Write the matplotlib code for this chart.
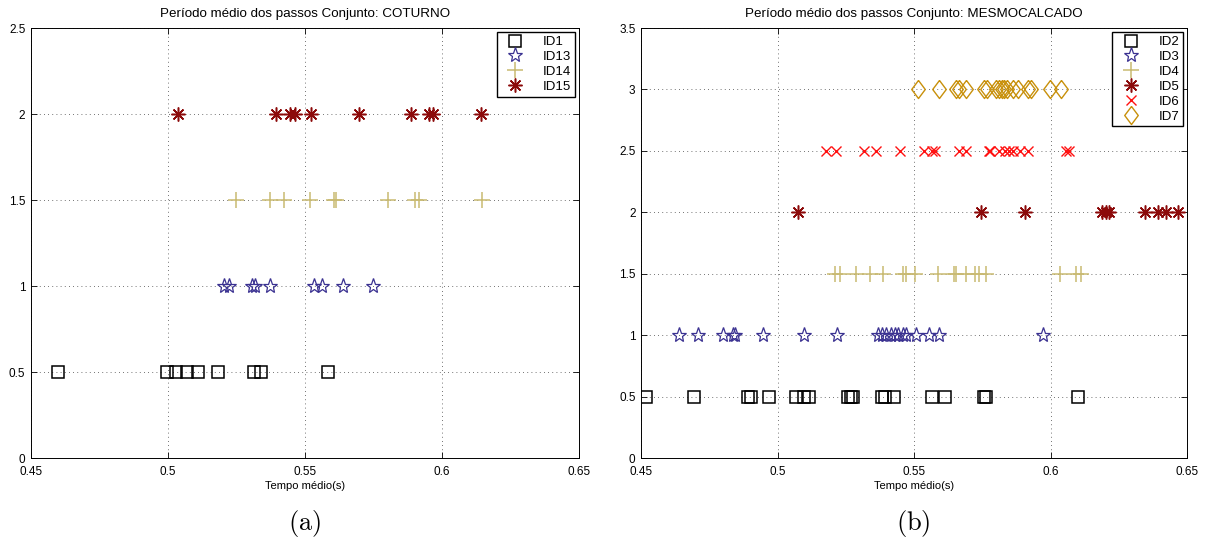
import numpy as np
import matplotlib
matplotlib.use("Agg")
import matplotlib.pyplot as plt
plt.rcParams["font.family"] = "Liberation Sans"
plt.rcParams["font.size"] = 8
plt.rcParams["mathtext.fontset"] = "cm"

# Data (mean step period per subject)
coturno_ids = ["ID1", "ID13", "ID14", "ID15"]
coturno_levels = [0.5, 1.0, 1.5, 2.0]
id1 = [0.460, 0.4995, 0.5031, 0.5069, 0.5108, 0.5183, 0.5315, 0.5340, 0.5584]
id13 = [0.5203, 0.5222, 0.5306, 0.5319, 0.5372, 0.5532, 0.5561, 0.5640, 0.5747]
id14 = [0.5250, 0.5374, 0.5424, 0.5519, 0.5606, 0.5613, 0.5804, 0.5902, 0.5915, 0.6145]
id15 = [0.5037, 0.5394, 0.5446, 0.5464, 0.5522, 0.5698, 0.5888, 0.5952, 0.5967, 0.6142]

mesmo_ids = ["ID2", "ID3", "ID4", "ID5", "ID6", "ID7"]
mesmo_levels = [0.5, 1.0, 1.5, 2.0, 2.5, 3.0]
id2 = [0.4519, 0.4694, 0.4890, 0.4902, 0.4969, 0.5066, 0.5096, 0.5115, 0.5257, 0.5268,
       0.5277, 0.5381, 0.5395, 0.5426, 0.5566, 0.5613, 0.5755, 0.5762, 0.6100]
id3 = [0.4639, 0.4707, 0.4799, 0.4836, 0.4844, 0.4948, 0.5098, 0.5218, 0.5369, 0.5383,
       0.5399, 0.5415, 0.5430, 0.5443, 0.5458, 0.5472, 0.5508, 0.5554, 0.5592, 0.5974]
id4 = [0.5209, 0.5229, 0.5286, 0.5338, 0.5386, 0.5459, 0.5472, 0.5503, 0.5589, 0.5647,
       0.5655, 0.5691, 0.5724, 0.5738, 0.5764, 0.6034, 0.6092, 0.6110]
id5 = [0.5076, 0.5744, 0.5906, 0.6187, 0.6203, 0.6216, 0.6345, 0.6392, 0.6424, 0.6468]
id6 = [0.5176, 0.5213, 0.5315, 0.5361, 0.5448, 0.5536, 0.5565, 0.5578, 0.5665, 0.5689,
       0.5775, 0.5780, 0.5811, 0.5835, 0.5848, 0.5864, 0.5888, 0.5917, 0.6056, 0.6066]
id7 = [0.5516, 0.5592, 0.5654, 0.5665, 0.5689, 0.5758, 0.5766, 0.5800, 0.5813, 0.5824,
       0.5831, 0.5840, 0.5861, 0.5880, 0.5917, 0.5930, 0.5999, 0.6039]

x_ticks = [0.45, 0.5, 0.55, 0.6, 0.65]
x_tick_labels = ["0.45", "0.5", "0.55", "0.6", "0.65"]
y_ticks_a = [0, 0.5, 1, 1.5, 2, 2.5]
y_tick_labels_a = ["0", "0.5", "1", "1.5", "2", "2.5"]
y_ticks_b = [0, 0.5, 1, 1.5, 2, 2.5, 3, 3.5]
y_tick_labels_b = ["0", "0.5", "1", "1.5", "2", "2.5", "3", "3.5"]

# MATLAB-like marker styles
diamond = [(0, 1), (0.75, 0), (0, -1), (-0.75, 0), (0, 1)]
styles = {
    "square": dict(marker="s", ms=8, mfc="none", mec="black", mew=1.1),
    "star": dict(marker="*", ms=11, mfc="none", mec="#3a3191", mew=0.9),
    "plus": dict(marker="+", ms=11, mec="#c9ba72", mew=1.1),
    "aster": dict(marker=(8, 2, 0), ms=10, mec="#8c0a0a", mew=1.1),
    "x": dict(marker="x", ms=7, mec="#ff1010", mew=1.0),
    "diamond": dict(marker=diamond, ms=13, mfc="none", mec="#c8900a", mew=1.0),
}


def style_axes(ax, yticks, ylabels, ylim):
    ax.set_xlim(0.45, 0.65)
    ax.set_ylim(*ylim)
    ax.set_xticks(x_ticks)
    ax.set_xticklabels(x_tick_labels)
    ax.set_yticks(yticks)
    ax.set_yticklabels(ylabels)
    ax.tick_params(direction="in", length=4, width=0.6, top=True, right=True,
                   labelsize=8.5)
    ax.tick_params(axis="x", pad=6)
    ax.tick_params(axis="y", pad=4)
    ax.grid(True, linestyle=(0, (1, 4)), color="#444444", linewidth=0.6)
    ax.set_axisbelow(True)
    for s in ax.spines.values():
        s.set_linewidth(0.7)
    ax.set_xlabel("Tempo médio(s)", labelpad=2)


fig = plt.figure(figsize=(12.1, 5.45), dpi=100)
ax1 = fig.add_axes([0.0256, 0.1596, 0.4529, 0.789])
ax2 = fig.add_axes([0.5298, 0.1596, 0.4512, 0.789])

for vals, lvl, name, st in zip([id1, id13, id14, id15], coturno_levels, coturno_ids,
                               ["square", "star", "plus", "aster"]):
    ax1.plot(vals, [lvl] * len(vals), linestyle="none", label=name, **styles[st])
style_axes(ax1, y_ticks_a, y_tick_labels_a, (0, 2.5))
ax1.set_title("Período médio dos passos Conjunto: COTURNO", pad=8)

for vals, lvl, name, st in zip([id2, id3, id4, id5, id6, id7], mesmo_levels, mesmo_ids,
                               ["square", "star", "plus", "aster", "x", "diamond"]):
    ax2.plot(vals, [lvl] * len(vals), linestyle="none", label=name, **styles[st])
style_axes(ax2, y_ticks_b, y_tick_labels_b, (0, 3.5))
ax2.set_title("Período médio dos passos Conjunto: MESMOCALCADO", pad=8)

for ax in (ax1, ax2):
    leg = ax.legend(loc="upper right", fontsize=9.5, fancybox=False, framealpha=1,
                    edgecolor="black", borderaxespad=0.3, handlelength=2.2,
                    handletextpad=1.0, labelspacing=0.2, borderpad=0.3)
    leg.get_frame().set_linewidth(1.0)

fig.text(0.252, 0.04, r"$\mathrm{(a)}$", ha="center", va="center", fontsize=19)
fig.text(0.755, 0.04, r"$\mathrm{(b)}$", ha="center", va="center", fontsize=19)

plt.savefig("out.png", dpi=100)
